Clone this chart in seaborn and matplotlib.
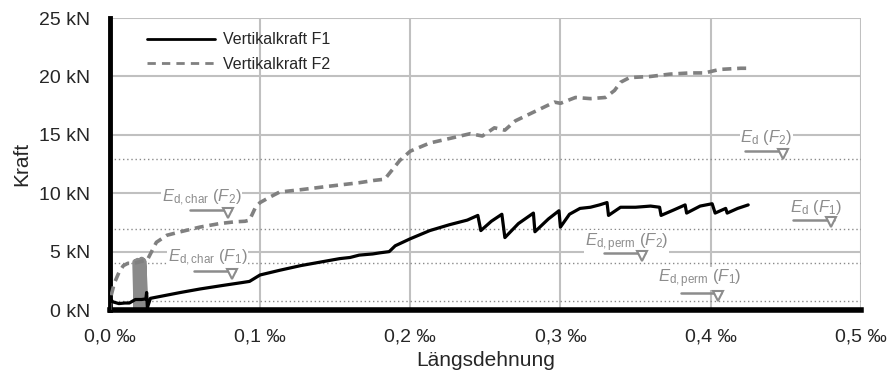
import numpy as np
import pandas as pd
import matplotlib
matplotlib.use("Agg")
import matplotlib.pyplot as plt
import seaborn as sb

# strain in permille, force in kN
f1_x = [0.0, 0.0, 0.002, 0.006, 0.010, 0.013, 0.017, 0.021, 0.024, 0.0245, 0.025, 0.027,
        0.035, 0.047, 0.060, 0.075, 0.088, 0.093, 0.100, 0.113, 0.127, 0.140, 0.153,
        0.160, 0.166, 0.175, 0.180, 0.186, 0.190, 0.200, 0.213, 0.226, 0.238, 0.245,
        0.247, 0.254, 0.261, 0.263, 0.272, 0.282, 0.283, 0.292, 0.299, 0.300, 0.306,
        0.313, 0.320, 0.326, 0.331, 0.332, 0.340, 0.350, 0.360, 0.366, 0.367, 0.376,
        0.383, 0.384, 0.393, 0.401, 0.403, 0.410, 0.411, 0.418, 0.425]
f1_y = [0.0, 1.0, 0.7, 0.55, 0.6, 0.6, 0.9, 0.9, 0.95, 1.5, 0.2, 1.0,
        1.2, 1.5, 1.8, 2.1, 2.35, 2.45, 3.0, 3.4, 3.8, 4.1, 4.4,
        4.5, 4.7, 4.8, 4.9, 5.0, 5.5, 6.1, 6.8, 7.3, 7.7, 8.1,
        6.8, 7.6, 8.2, 6.2, 7.4, 8.3, 6.7, 7.8, 8.5, 7.1, 8.2,
        8.7, 8.8, 9.0, 9.2, 8.1, 8.8, 8.8, 8.9, 8.8, 8.1, 8.6,
        9.0, 8.3, 8.9, 9.1, 8.3, 8.7, 8.3, 8.7, 9.0]

f2_x = [0.0, 0.001, 0.003, 0.006, 0.009, 0.012, 0.016, 0.025, 0.027, 0.031, 0.038,
        0.047, 0.060, 0.073, 0.083, 0.090, 0.093, 0.097, 0.100, 0.107, 0.113, 0.127,
        0.146, 0.166, 0.176, 0.183, 0.188, 0.193, 0.200, 0.213, 0.230, 0.240, 0.248,
        0.256, 0.263, 0.270, 0.283, 0.296, 0.300, 0.310, 0.320, 0.330, 0.336, 0.340,
        0.346, 0.360, 0.373, 0.386, 0.396, 0.406, 0.420, 0.425]
f2_y = [0.0, 1.3, 2.3, 3.2, 3.8, 4.0, 4.0, 4.3, 4.8, 5.8, 6.4,
        6.7, 7.1, 7.4, 7.55, 7.6, 7.7, 8.8, 9.2, 9.7, 10.1, 10.3,
        10.6, 10.9, 11.1, 11.2, 12.0, 12.8, 13.6, 14.3, 14.8, 15.1, 14.9,
        15.6, 15.4, 16.2, 17.0, 17.8, 17.7, 18.2, 18.1, 18.2, 18.8, 19.5,
        19.9, 20.0, 20.2, 20.3, 20.3, 20.6, 20.7, 20.7]

# noisy gauge jump of F2 near 0.02 permille
jump_x = [0.017, 0.0178, 0.0175, 0.0188, 0.0184, 0.0198, 0.0193, 0.0208, 0.0203,
          0.0218, 0.0212, 0.0228, 0.0222, 0.0238]
jump_y = [4.1, 0.0, 4.0, 0.0, 4.2, 0.0, 4.0, 0.0, 4.2, 0.0, 4.3, 0.0, 4.2, 0.0]

levels = [12.9, 6.9, 4.0, 0.8]
ann_labels = [r"$E_{\mathrm{d,char}}$ $(F_2)$", r"$E_{\mathrm{d,char}}$ $(F_1)$",
              r"$E_{\mathrm{d}}$ $(F_2)$", r"$E_{\mathrm{d}}$ $(F_1)$",
              r"$E_{\mathrm{d,perm}}$ $(F_2)$", r"$E_{\mathrm{d,perm}}$ $(F_1)$"]
ann_text = [(0.0613, 9.6), (0.065, 4.5), (0.437, 14.8), (0.470, 8.8), (0.344, 5.8), (0.393, 2.7)]
ann_mark = [(0.0786, 8.3), (0.081, 3.1), (0.448, 13.4), (0.480, 7.5), (0.354, 4.6), (0.405, 1.2)]

sb.set_style("white")
plt.rcParams['font.family'] = ['Liberation Sans', 'DejaVu Sans']
plt.rcParams['mathtext.fontset'] = 'custom'
plt.rcParams['mathtext.rm'] = 'Liberation Sans'
plt.rcParams['mathtext.it'] = 'Liberation Sans:italic'

fig = plt.figure(figsize=(8.93, 3.76), dpi=100)
ax = fig.add_axes([0.123, 0.1755, 0.841, 0.7765])

grid_col = "#c0c0c0"
for xv in [0.1, 0.2, 0.3, 0.4, 0.5]:
    ax.axvline(xv, color=grid_col, lw=1.5, zorder=0)
for yv in [5, 10, 15, 20, 25]:
    ax.axhline(yv, color=grid_col, lw=1.5, zorder=0)
for lv in levels:
    ax.axhline(lv, color="#8a8a8a", lw=1, ls=(0, (1, 2)), zorder=1)

sb.lineplot(x=jump_x, y=jump_y, ax=ax, color="#8a8a8a", lw=4.5, sort=False,
            estimator=None, legend=False, zorder=2)
sb.lineplot(x=f2_x, y=f2_y, ax=ax, color="#808080", lw=2.6, sort=False,
            estimator=None, label="Vertikalkraft F2", dashes=False, zorder=3)
ax.lines[-1].set_dashes([2.5, 1.6])
sb.lineplot(x=f1_x, y=f1_y, ax=ax, color="black", lw=2.3, sort=False,
            estimator=None, label="Vertikalkraft F1", zorder=4)

ann_col = "#8c8c8c"
for lab, (tx, ty), (mx, my) in zip(ann_labels, ann_text, ann_mark):
    ax.text(tx, ty, lab, color=ann_col, fontsize=12, ha="center", va="center",
            bbox=dict(facecolor="white", edgecolor="none", pad=0.5), zorder=5)
    ax.plot([mx - 0.025, mx + 0.002], [my + 0.25, my + 0.25], color=ann_col, lw=1.8, zorder=5)
    ax.plot(mx, my, marker="v", ms=7, mfc="white", mec=ann_col, mew=1.5, zorder=6)

ax.set_xlim(0, 0.5)
ax.set_ylim(0, 25)
ax.set_xticks([0, 0.1, 0.2, 0.3, 0.4, 0.5])
ax.set_xticklabels(["0,0 ‰", "0,1 ‰", "0,2 ‰", "0,3 ‰", "0,4 ‰", "0,5 ‰"])
ax.set_yticks([0, 5, 10, 15, 20, 25])
ax.set_yticklabels([f"{v} kN" for v in [0, 5, 10, 15, 20, 25]])
ax.tick_params(axis="both", direction="in", length=4, width=3, color="black",
               labelsize=14)
ax.tick_params(axis="y", pad=14)
ax.tick_params(axis="x", pad=13)
ax.set_xlabel("Längsdehnung", fontsize=15, labelpad=4)
ax.set_ylabel("Kraft", fontsize=15, labelpad=6)

for s in ["top", "right"]:
    ax.spines[s].set_visible(False)
ax.spines["left"].set_linewidth(3.5)
ax.spines["bottom"].set_linewidth(4)
ax.spines["left"].set_color("black")
ax.spines["bottom"].set_color("black")

handles, labels = ax.get_legend_handles_labels()
order = [labels.index("Vertikalkraft F1"), labels.index("Vertikalkraft F2")]
leg = ax.legend([handles[i] for i in order], [labels[i] for i in order],
                loc="upper left", bbox_to_anchor=(0.03, 1.0), frameon=False,
                handlelength=4.3, fontsize=11.5, handletextpad=0.5, labelspacing=0.6)
leg.legend_handles[1].set_dashes([3, 2.2])
leg.legend_handles[1].set_linewidth(2)
leg.legend_handles[0].set_linewidth(2)

fig.savefig("out.png", dpi=100)
